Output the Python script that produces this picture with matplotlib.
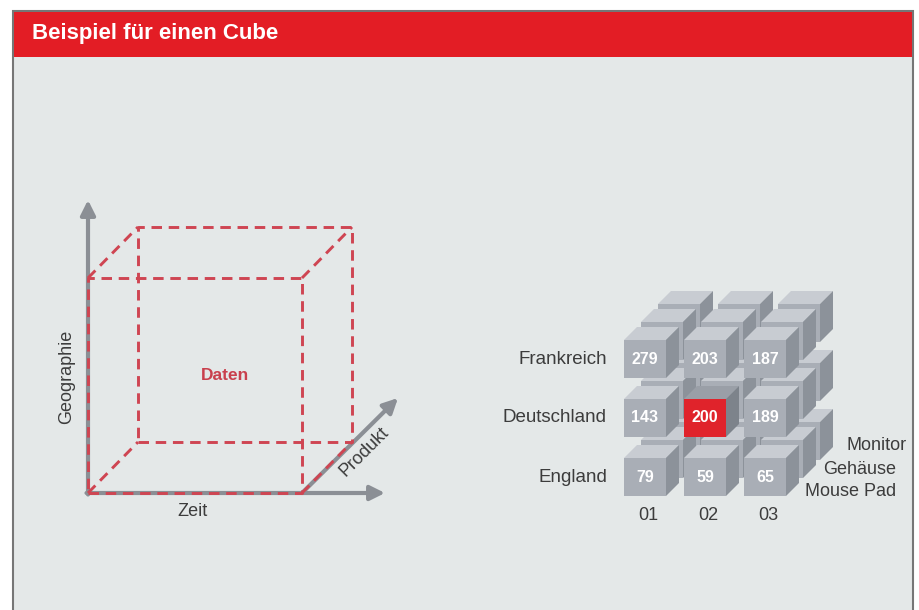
import numpy as np
import matplotlib.pyplot as plt
from matplotlib.patches import Rectangle, Polygon

plt.rcParams['font.family'] = ['Liberation Sans', 'DejaVu Sans']

# cube data: rows = Geographie, columns = Zeit, layers = Produkt
countries = ['Frankreich', 'Deutschland', 'England']
months = ['01', '02', '03']
products = ['Mouse Pad', 'Gehäuse', 'Monitor']
values = [[279, 203, 187],
          [143, 200, 189],
          [79, 59, 65]]
highlight = (1, 1)  # Deutschland / 02

bg = '#e4e8e8'
red = '#e31d25'
dash_red = '#cf4552'
axis_gray = '#8b8f95'
text_col = '#3c3c3c'

fig = plt.figure(figsize=(9.19, 6.10), dpi=100)
ax = fig.add_axes([0, 0, 1, 1])
ax.set_xlim(0, 919)
ax.set_ylim(610, 0)
ax.axis('off')

# panel and header band
ax.add_patch(Rectangle((12.5, 10.5), 900, 620, facecolor=bg, edgecolor='#767676', lw=1.5))
ax.add_patch(Rectangle((13.5, 12), 898, 45, facecolor=red, edgecolor='none'))
ax.text(32, 34, 'Beispiel für einen Cube', color='white', fontsize=16,
        fontweight='bold', va='center', ha='left')

# --- left: schematic cube with three axes ---
ox, oy = 88, 493          # origin
w, h = 214, 215           # front face
dx, dy = 50, -51          # depth offset

arrow_kw = dict(arrowstyle='-|>', lw=3, color=axis_gray, mutation_scale=22,
                shrinkA=0, shrinkB=0)
ax.annotate('', xy=(ox, 200), xytext=(ox, oy + 1.5), arrowprops=arrow_kw, zorder=1)
ax.annotate('', xy=(385, oy), xytext=(ox - 1.5, oy), arrowprops=arrow_kw, zorder=1)
ax.annotate('', xy=(398, 398), xytext=(ox + w, oy), arrowprops=arrow_kw, zorder=1)

front = np.array([[ox, oy], [ox + w, oy], [ox + w, oy - h], [ox, oy - h], [ox, oy]])
back = front + [dx, dy]
ls = (0, (3.6, 2.3))
line_kw = dict(color=dash_red, lw=2.1, ls=ls, zorder=3)
ax.plot(front[:, 0], front[:, 1], **line_kw)
ax.plot(back[:, 0], back[:, 1], **line_kw)
for p in front[:4]:
    ax.plot([p[0], p[0] + dx], [p[1], p[1] + dy], **line_kw)

ax.text(225, 376, 'Daten', color='#c9404d', fontsize=12.5, fontweight='bold',
        ha='center', va='center')
ax.text(67, 377, 'Geographie', color=text_col, fontsize=13, rotation=90,
        ha='center', va='center')
ax.text(192, 512, 'Zeit', color=text_col, fontsize=13, ha='center', va='center')
ax.text(364, 452, 'Produkt', color=text_col, fontsize=13, rotation=45,
        ha='center', va='center')

# --- right: cube made of small cubes ---
cx0, cy0 = 624, 340       # front face of top-left front cube
pitch_x, pitch_y = 60, 59
cw, ch, cd = 42, 38, 13   # cube size and depth
lx, ly = 17, -18          # offset per product layer

face_front = '#a9aeb6'
face_top = '#c8ccd2'
face_side = '#8c929a'


def draw_cube(x, y, front_col, top_col, side_col):
    ax.add_patch(Polygon([(x, y), (x + cd, y - cd), (x + cw + cd, y - cd), (x + cw, y)],
                         closed=True, facecolor=top_col, edgecolor='none'))
    ax.add_patch(Polygon([(x + cw, y), (x + cw + cd, y - cd), (x + cw + cd, y + ch - cd),
                          (x + cw, y + ch)], closed=True, facecolor=side_col, edgecolor='none'))
    ax.add_patch(Rectangle((x, y), cw, ch, facecolor=front_col, edgecolor='none'))


for k in reversed(range(len(products))):
    for r in range(len(countries)):
        for c in range(len(months)):
            x = cx0 + c * pitch_x + k * lx
            y = cy0 + r * pitch_y + k * ly
            if k == 0 and (r, c) == highlight:
                draw_cube(x, y, '#e0232b', '#9a9fa7', '#7d838b')
            else:
                draw_cube(x, y, face_front, face_top, face_side)
            if k == 0:
                ax.text(x + cw / 2, y + ch / 2, str(values[r][c]), color='white',
                        fontsize=11.5, fontweight='bold', ha='center', va='center')

for r, name in enumerate(countries):
    ax.text(607, cy0 + r * pitch_y + ch / 2, name, color=text_col, fontsize=13.5,
            ha='right', va='center')
for c, m in enumerate(months):
    ax.text(cx0 + c * pitch_x + cw / 2 + 3, 516, m, color=text_col, fontsize=13,
            ha='center', va='center')
for k, (p, xr) in enumerate(zip(products, [896, 896, 907])):
    ax.text(xr, 492 - k * 23, p, color=text_col, fontsize=13, ha='right', va='center')

fig.savefig('out.png', dpi=100)
